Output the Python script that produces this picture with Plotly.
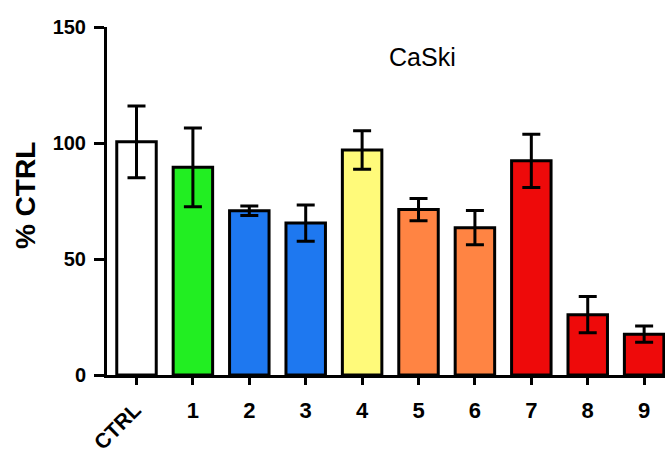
import plotly.graph_objects as go

categories = ["CTRL", "1", "2", "3", "4", "5", "6", "7", "8", "9"]
values = [100.5, 89.5, 70.8, 65.5, 97.0, 71.3, 63.5, 92.3, 26.0, 17.6]
errors = [15.5, 17.0, 2.0, 7.8, 8.3, 4.8, 7.4, 11.5, 7.8, 3.5]
colors = ["#FFFFFF", "#22EE22", "#1E78F0", "#1E78F0", "#FFFA7A",
          "#FF8443", "#FF8443", "#EE0A0A", "#EE0A0A", "#EE0A0A"]
y_ticks = [0, 50, 100, 150]
tick_text = [""] + categories[1:]

FONT = "Liberation Sans, Arial, sans-serif"

fig = go.Figure()
fig.add_trace(go.Bar(
    x=categories,
    y=values,
    marker=dict(color=colors, line=dict(color="black", width=3)),
    error_y=dict(type="data", array=errors, visible=True,
                 color="black", thickness=3, width=9),
))

fig.update_layout(
    width=665, height=455,
    margin=dict(l=107, r=0, t=27, b=80),
    paper_bgcolor="white", plot_bgcolor="white",
    bargap=0.3,
    showlegend=False,
    font=dict(family=FONT, color="black"),
    xaxis=dict(
        type="category",
        range=[-0.523, 9.37],
        tickvals=categories, ticktext=tick_text,
        showline=True, linecolor="black", linewidth=3,
        ticks="outside", ticklen=7, tickwidth=3, tickcolor="black",
        tickangle=0,
        tickfont=dict(size=22, family=FONT, weight="bold"),
        ticklabelstandoff=7,
        showgrid=False, zeroline=False, automargin=False,
    ),
    yaxis=dict(
        range=[0, 150],
        tickvals=y_ticks,
        showline=True, linecolor="black", linewidth=3,
        ticks="outside", ticklen=10, tickwidth=3, tickcolor="black",
        tickfont=dict(size=20, family=FONT, weight="bold"),
        ticklabelstandoff=4,
        showgrid=False, zeroline=False, automargin=False,
    ),
    annotations=[
        dict(text="CaSki", x=0.566, y=0.914, xref="paper", yref="paper",
             xanchor="center", yanchor="middle",
             showarrow=False, font=dict(size=25, family=FONT)),
        dict(text="% CTRL", x=-0.147, y=0.517, xref="paper", yref="paper",
             xanchor="center", yanchor="middle",
             showarrow=False, textangle=-45 * 2,
             font=dict(size=28, family=FONT, weight="bold")),
        dict(text="CTRL", x="CTRL", y=0, xref="x", yref="paper",
             xanchor="center", yanchor="middle",
             xshift=-20, yshift=-51,
             showarrow=False, textangle=-45,
             font=dict(size=21, family=FONT, weight="bold")),
    ],
)

fig.write_html("out.html", config={"displayModeBar": False},
               post_script="document.body.style.margin='0px';")
